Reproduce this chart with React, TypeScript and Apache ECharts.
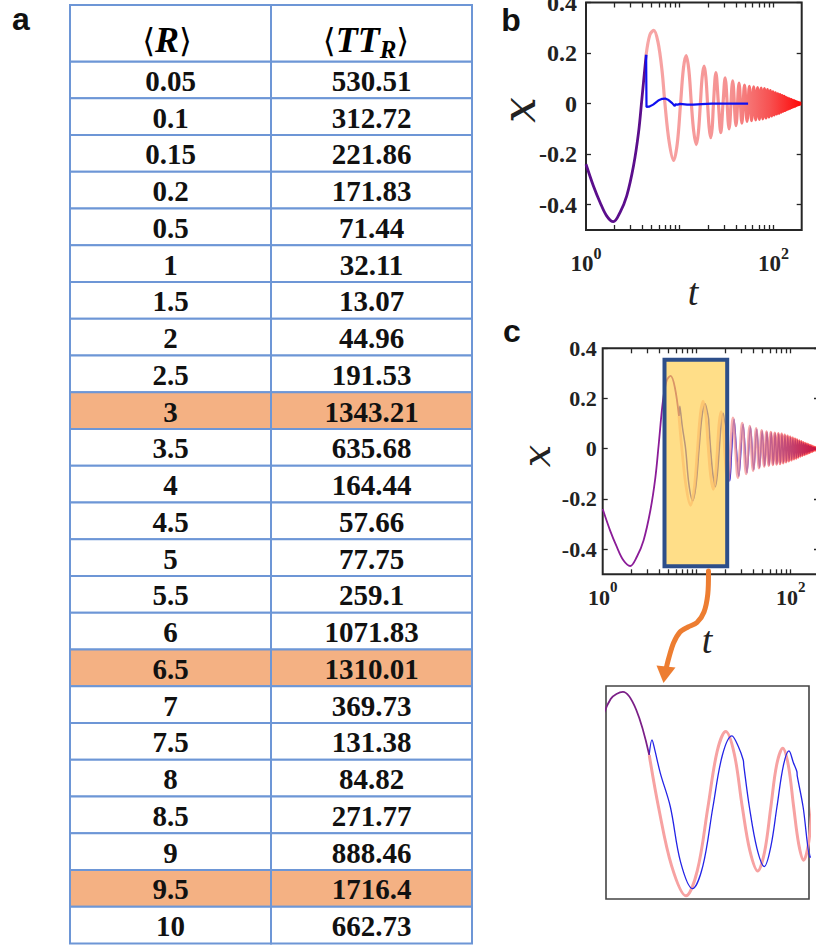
import React, { useEffect, useRef } from 'react';
import * as echarts from 'echarts';

// ---------- table (panel a) ----------
const R_VALUES = [0.05, 0.1, 0.15, 0.2, 0.5, 1, 1.5, 2, 2.5, 3, 3.5, 4, 4.5, 5, 5.5, 6, 6.5, 7, 7.5, 8, 8.5, 9, 9.5, 10];
const TT_VALUES = [530.51, 312.72, 221.86, 171.83, 71.44, 32.11, 13.07, 44.96, 191.53, 1343.21, 635.68, 164.44, 57.66, 77.75, 259.1, 1071.83, 1310.01, 369.73, 131.38, 84.82, 271.77, 888.46, 1716.4, 662.73];
const HIGHLIGHT_R = [3, 6.5, 9.5];
const TABLE_COLUMNS = ['R', 'TT'];

// ---------- axes ----------
const Y_TICKS = [-0.4, -0.2, 0, 0.2, 0.4];
const X_LABEL_TICKS = [1, 100];
const X_TICKS = [2, 3, 4, 5, 6, 7, 8, 9, 10, 20, 30, 40, 50, 60, 70, 80, 90, 100];

// ---------- trajectories [t, x] ----------
// undisturbed trajectory (pink), its early part drawn purple
const BASE: number[][] = [
  [1.0, -0.24], [1.2, -0.326], [1.41, -0.39], [1.66, -0.444], [1.96, -0.467], [2.31, -0.43],
  [2.72, -0.365], [3.21, -0.247], [3.63, -0.116], [3.94, 0.016], [4.38, 0.193], [4.8, 0.272],
  [5.28, 0.29], [5.85, 0.245], [6.47, 0.131], [6.95, 0], [7.7, -0.15], [8.6, -0.225], [9.4, -0.16],
  [10.2, 0], [10.95, 0.14], [11.7, 0.19], [12.5, 0.134], [13.3, 0], [14.1, -0.11], [15.0, -0.162],
  [15.8, -0.115], [16.6, 0], [17.35, 0.105], [18.2, 0.148], [19.0, 0.105], [19.8, 0], [20.6, -0.095],
  [21.4, -0.135], [22.2, -0.095], [22.9, 0], [24.3, 0.123], [25.85, 0], [27.4, -0.115], [28.95, 0],
  [30.5, 0.102], [33.6, -0.1], [36.7, 0.09], [39.8, -0.087], [42.9, 0.081], [46.0, -0.077],
  [49.1, 0.073], [52.2, -0.07], [55.3, 0.068], [58.4, -0.067], [61.5, 0.066], [64.6, -0.064],
  [67.7, 0.063], [70.8, -0.062], [73.9, 0.061], [77.0, -0.06], [80.1, 0.059], [83.2, -0.057],
  [86.3, 0.055], [89.4, -0.053], [92.5, 0.051], [95.6, -0.049], [98.7, 0.047], [101.8, -0.045],
  [104.9, 0.043], [108.0, -0.041], [111.1, 0.039], [114.2, -0.038], [117.3, 0.036], [120.4, -0.034],
  [123.5, 0.032], [126.6, -0.03], [129.7, 0.029], [132.8, -0.027], [135.9, 0.025], [139.0, -0.024],
  [142.1, 0.022], [145.2, -0.021], [148.3, 0.019], [151.4, -0.018], [154.5, 0.016], [157.6, -0.015],
  [160.7, 0.013], [163.8, -0.012], [166.9, 0.011], [170.0, -0.01], [173.1, 0.008], [176.2, -0.007],
  [179.3, 0.006], [182.4, -0.005], [185.5, 0.004], [188.6, -0.003], [191.7, 0.002], [194.8, -0.001],
  [197.9, 0.001], [200, 0],
];
const SWITCH_B = 4.38;
const SWITCH_C = 6.47;

// controlled trajectory, panel b
const BLUE_B: number[][] = [
  [4.38, 0.193], [4.42, -0.013], [4.7, -0.012], [5.2, -0.004], [5.9, 0.012], [6.5, 0.019],
  [7.0, 0.02], [7.6, 0.014], [8.3, 0.002], [8.85, -0.01], [8.95, -0.003], [9.5, -0.004],
  [10.1, -0.001], [12, -0.004], [14, -0.004], [17, -0.002], [22, 0], [53.6, 0],
];

// controlled trajectory, panel c
const BLUE_C: number[][] = [
  [6.47, 0.131], [6.61, 0.169], [6.75, 0.145], [7.05, 0.085], [7.62, 0], [8.25, -0.14], [9.05, -0.207],
  [9.8, -0.15], [10.6, 0], [11.4, 0.13], [12.28, 0.179], [12.9, 0.152], [13.4, 0.118], [13.46, 0.104],
  [14.05, 0], [14.9, -0.105], [15.78, -0.151], [16.6, -0.1], [17.4, 0], [18.3, 0.105], [19.1, 0.141],
  [19.75, 0.112], [20.3, 0.089], [20.36, 0.078], [21.3, 0], [22.5, -0.128], [23.6, 0], [24.9, 0.117],
  [26.4, 0], [28.0, -0.11], [31.1, 0.098], [34.2, -0.096], [37.3, 0.087], [40.4, -0.084], [43.5, 0.078],
  [46.6, -0.075], [49.7, 0.071], [52.8, -0.068], [55.9, 0.066], [59.0, -0.065], [62.1, 0.064],
  [65.2, -0.062], [68.3, 0.061], [71.4, -0.06], [74.5, 0.059], [77.6, -0.058], [80.7, 0.057],
  [83.8, -0.055], [86.9, 0.053], [90.0, -0.051], [93.1, 0.049], [96.2, -0.047], [99.3, 0.045],
  [102.4, -0.043], [105.5, 0.041], [108.6, -0.039], [111.7, 0.037], [114.8, -0.036], [117.9, 0.034],
  [121.0, -0.032], [124.1, 0.03], [127.2, -0.028], [130.3, 0.027], [133.4, -0.025], [136.5, 0.023],
  [139.6, -0.022], [142.7, 0.02], [145.8, -0.019], [148.9, 0.017], [152.0, -0.016], [155.1, 0.014],
  [158.2, -0.013], [161.3, 0.011], [164.4, -0.01], [167.5, 0.009], [170.6, -0.008], [173.7, 0.006],
  [176.8, -0.005], [179.9, 0.004], [183.0, -0.003], [186.1, 0.002], [189.2, -0.001], [200, 0],
];

// zoomed window of panel c
const INSET_T = [4.63, 22.3];
const INSET_X = [-0.233, 0.305];

const FRAME = '#262626';
const TABLE_BORDER = '#6d96d6';
const TABLE_HL = '#F4B183';
const SERIF = '"Liberation Serif", "Times New Roman", serif';

const tickStyle = { color: FRAME, width: 1.3 };

function xAxisCfg(gridIndex: number, position: string, min: number, max: number, labels: boolean, margin = 10, fs = 23) {
  return {
    type: 'log', logBase: 10, gridIndex, position, min, max,
    axisLine: { show: false, onZero: false }, splitLine: { show: false },
    axisTick: { show: true, inside: true, length: 5, customValues: X_TICKS, lineStyle: tickStyle },
    axisLabel: labels ? {
      show: true, customValues: X_LABEL_TICKS, margin,
      formatter: (v: number) => `{b|10}{s|${Math.round(Math.log10(v))}}`,
      rich: {
        b: { fontFamily: SERIF, fontWeight: 'bold', fontSize: fs, lineHeight: 36, color: '#222' },
        s: { fontFamily: SERIF, fontWeight: 'bold', fontSize: fs - 7, lineHeight: 12, verticalAlign: 'top', color: '#222' },
      },
    } : { show: false },
  };
}

function yAxisCfg(gridIndex: number, position: string, labels: boolean, margin = 9, fontSize = 24) {
  return {
    type: 'value', gridIndex, position, min: -0.5, max: 0.4,
    axisLine: { show: false, onZero: false }, splitLine: { show: false },
    axisTick: { show: true, inside: true, length: 5, customValues: Y_TICKS, lineStyle: tickStyle },
    axisLabel: labels ? {
      show: true, customValues: Y_TICKS, margin,
      formatter: (v: number) => String(Math.round(v * 10) / 10),
      fontFamily: SERIF, fontWeight: 'bold', fontSize, color: '#222',
    } : { show: false },
  };
}

function pinkGradient() {
  return new echarts.graphic.LinearGradient(0, 0, 1, 0, [
    { offset: 0, color: '#F7A6A6' },
    { offset: 0.55, color: '#F59191' },
    { offset: 0.8, color: '#F75050' },
    { offset: 1, color: '#FF0808' },
  ]);
}

function lineSeries(xi: number, yi: number, data: number[][], color: any, width: number, smooth: any = 0.35, opacity = 1) {
  return {
    type: 'line', xAxisIndex: xi, yAxisIndex: yi, data, showSymbol: false, symbol: 'none',
    smooth, silent: true, lineStyle: { color, width, opacity }, clip: true,
  };
}

export default function App() {
  const ref = useRef<HTMLDivElement>(null);
  useEffect(() => {
    if (!ref.current) return;
    const chart = echarts.init(ref.current, null, { renderer: 'svg' });

    const purpleB = BASE.filter((p) => p[0] <= SWITCH_B);
    const pinkB = BASE.filter((p) => p[0] >= SWITCH_B);
    const purpleC = BASE.filter((p) => p[0] <= SWITCH_C);
    const pinkC = BASE.filter((p) => p[0] >= SWITCH_C);

    const cells: number[][] = [];
    R_VALUES.forEach((_, i) => { cells.push([0, i]); cells.push([1, i]); });

    const headerRich = {
      a: { fontFamily: '"DejaVu Serif", serif', fontSize: 33, lineHeight: 44, color: '#111' },
      r: { fontFamily: SERIF, fontStyle: 'italic', fontWeight: 'bold', fontSize: 36, lineHeight: 44, color: '#111' },
      sub: { fontFamily: SERIF, fontStyle: 'italic', fontWeight: 'bold', fontSize: 25, lineHeight: 24, verticalAlign: 'bottom', color: '#111' },
    };

    const gridBase = { show: true, borderColor: FRAME, borderWidth: 2, backgroundColor: 'transparent', containLabel: false, outerBoundsMode: 'none' };

    const option: any = {
      animation: false,
      backgroundColor: '#fff',
      grid: [
        { ...gridBase, left: 586, top: 2.5, width: 215.7, height: 227.5 },
        { ...gridBase, left: 602.7, top: 348.3, width: 216.3, height: 226 },
        { ...gridBase, left: 606, top: 686, width: 203, height: 213, borderColor: '#444', borderWidth: 1.6 },
        { left: 70, top: 61.5, width: 402, height: 882, containLabel: false, outerBoundsMode: 'none' },
      ],
      xAxis: [
        xAxisCfg(0, 'bottom', 1, 200, true, 15, 23),
        xAxisCfg(0, 'top', 1, 200, false),
        xAxisCfg(1, 'bottom', 1, 200, true, 5, 22),
        xAxisCfg(1, 'top', 1, 200, false),
        { type: 'log', logBase: 10, gridIndex: 2, min: INSET_T[0], max: INSET_T[1], show: false },
        { type: 'category', gridIndex: 3, data: TABLE_COLUMNS, show: false },
      ],
      yAxis: [
        yAxisCfg(0, 'left', true, 9, 24),
        yAxisCfg(0, 'right', false),
        yAxisCfg(1, 'left', true, 6, 22),
        yAxisCfg(1, 'right', false),
        { type: 'value', gridIndex: 2, min: INSET_X[0], max: INSET_X[1], show: false },
        { type: 'category', gridIndex: 3, data: R_VALUES.map(String), inverse: true, show: false },
      ],
      series: [
        // panel b
        lineSeries(0, 0, pinkB, pinkGradient(), 3.2),
        lineSeries(0, 0, purpleB, '#5B0E8C', 2.8),
        lineSeries(0, 0, BLUE_B, '#1010F0', 2.2, false),
        // panel c
        lineSeries(2, 2, BLUE_C, '#2A1FD0', 1.5),
        lineSeries(2, 2, pinkC, pinkGradient(), 2.8, 0.35, 0.75),
        lineSeries(2, 2, purpleC, '#8B1C98', 1.8),
        // inset
        lineSeries(4, 4, pinkC, '#F7A2A2', 3),
        lineSeries(4, 4, BLUE_C, '#2323E6', 1.3),
        lineSeries(4, 4, purpleC, '#7B1F87', 1.8),
        // table
        {
          type: 'custom', coordinateSystem: 'cartesian2d', xAxisIndex: 5, yAxisIndex: 5, silent: true,
          data: cells,
          renderItem: (params: any, api: any) => {
            const col = api.value(0);
            const row = api.value(1);
            const c = api.coord([col, row]);
            const s = api.size([1, 1]);
            const hl = HIGHLIGHT_R.indexOf(R_VALUES[row]) >= 0;
            const text = col === 0 ? String(R_VALUES[row]) : String(TT_VALUES[row]);
            return {
              type: 'group',
              children: [
                {
                  type: 'rect',
                  shape: { x: c[0] - s[0] / 2, y: c[1] - s[1] / 2, width: s[0], height: s[1] },
                  style: { fill: hl ? TABLE_HL : '#fff', stroke: TABLE_BORDER, lineWidth: 2 },
                },
                {
                  type: 'text',
                  style: {
                    text, x: c[0], y: c[1] + 1, align: 'center', verticalAlign: 'middle',
                    fontFamily: SERIF, fontWeight: 'bold', fontSize: 29, fill: '#111',
                  },
                },
              ],
            };
          },
        },
      ],
      graphic: [
        // table header
        { type: 'rect', z: 5, shape: { x: 70, y: 5, width: 201, height: 56.5 }, style: { fill: '#fff', stroke: TABLE_BORDER, lineWidth: 2 } },
        { type: 'rect', z: 5, shape: { x: 271, y: 5, width: 201, height: 56.5 }, style: { fill: '#fff', stroke: TABLE_BORDER, lineWidth: 2 } },
        { type: 'text', z: 6, x: 167, y: 40, style: { text: '{a|⟨}{r|R}{a|⟩}', rich: headerRich, align: 'center', verticalAlign: 'middle' } },
        { type: 'text', z: 6, x: 366, y: 40, style: { text: '{a|⟨}{r|TT}{sub|R}{a|⟩}', rich: headerRich, align: 'center', verticalAlign: 'middle' } },
        // panel letters
        { type: 'text', z: 6, x: 21, y: 19, style: { text: 'a', font: 'bold 32px "Liberation Sans", Arial, sans-serif', fill: '#111', align: 'center', verticalAlign: 'middle' } },
        { type: 'text', z: 6, x: 511, y: 20, style: { text: 'b', font: 'bold 32px "Liberation Sans", Arial, sans-serif', fill: '#111', align: 'center', verticalAlign: 'middle' } },
        { type: 'text', z: 6, x: 512, y: 331, style: { text: 'c', font: 'bold 32px "Liberation Sans", Arial, sans-serif', fill: '#111', align: 'center', verticalAlign: 'middle' } },
        // axis names
        { type: 'text', z: 6, x: 519, y: 110, rotation: Math.PI / 2, style: { text: 'x', font: 'italic 46px "DejaVu Serif", serif', fill: '#222', align: 'center', verticalAlign: 'middle' } },
        { type: 'text', z: 6, x: 693, y: 292, style: { text: 't', font: 'italic 38px "Liberation Serif", serif', fill: '#222', align: 'center', verticalAlign: 'middle' } },
        { type: 'text', z: 6, x: 536, y: 456, rotation: Math.PI / 2, style: { text: 'x', font: 'italic 40px "DejaVu Serif", serif', fill: '#222', align: 'center', verticalAlign: 'middle' } },
        { type: 'text', z: 6, x: 707, y: 640, style: { text: 't', font: 'italic 38px "Liberation Serif", serif', fill: '#222', align: 'center', verticalAlign: 'middle' } },
        // highlighted window in panel c
        { type: 'rect', z: 20, shape: { x: 664.5, y: 359.7, width: 62.7, height: 206.6 }, style: { fill: 'rgba(255, 207, 80, 0.68)', stroke: '#2D4E8A', lineWidth: 4 } },
        // orange arrow
        {
          type: 'polyline', z: 21,
          shape: { points: [[708.5, 571], [707.8, 594], [704, 612], [697, 622.5], [688, 627], [680, 632], [673.5, 643], [668.8, 658], [666.5, 667]], smooth: 0.3 },
          style: { stroke: '#ED7D31', lineWidth: 5, fill: null, lineCap: 'round' },
        },
        { type: 'polygon', z: 21, shape: { points: [[656.5, 665.5], [675.5, 667.5], [663.5, 683]] }, style: { fill: '#ED7D31' } },
      ],
    };
    chart.setOption(option);
    return () => chart.dispose();
  }, []);

  return <div ref={ref} style={{ position: 'absolute', left: 0, top: 0, width: 816, height: 945, background: '#fff' }} />;
}
